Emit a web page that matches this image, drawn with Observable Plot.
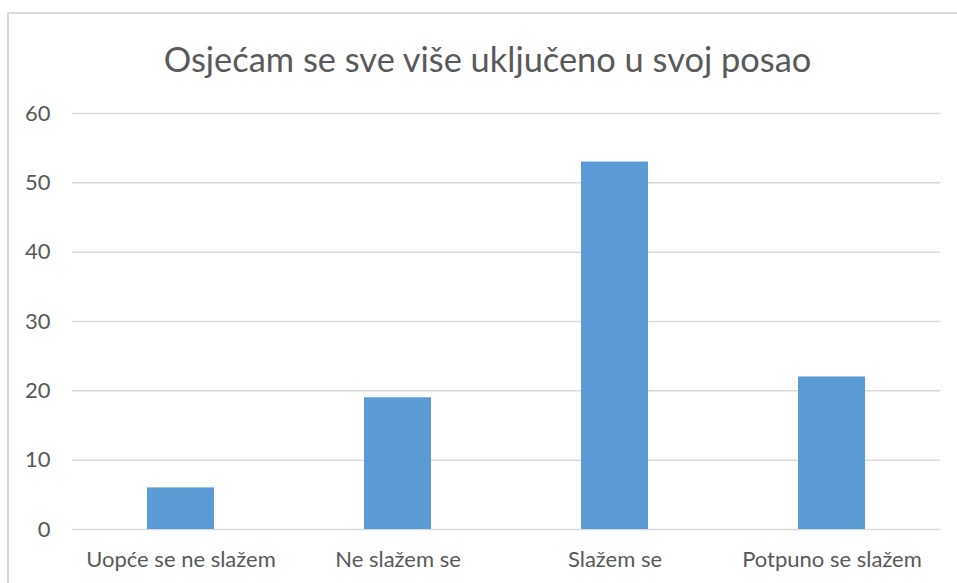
<!DOCTYPE html>
<html>
<head>
<meta charset="utf-8">
<script src="https://cdn.jsdelivr.net/npm/d3@7"></script>
<script src="https://cdn.jsdelivr.net/npm/@observablehq/plot@0.6"></script>
<style>
  html, body { margin: 0; padding: 0; background: #fff; }
  body { width: 957px; height: 583px; overflow: hidden; position: relative; font-family: Lato, "Open Sans", sans-serif; }
  #frame { position: absolute; left: 7px; top: 12px; width: 960px; height: 580px; border-top: 2px solid #D9D9D9; border-left: 2px solid #D9D9D9; }
  #chart { position: absolute; left: 0; top: 0; width: 957px; }
  #title { height: 88px; line-height: 1; text-align: center; color: #595959; font-size: 34.4px; box-sizing: border-box; white-space: nowrap; }
  #title span { display: inline-block; margin-top: 42px; margin-left: 18px; }
  svg { display: block; }
</style>
</head>
<body>
<div id="frame"></div>
<div id="chart">
  <div id="title"><span>Osjećam se sve više uključeno u svoj posao</span></div>
</div>
<script>
const categories = ["Uopće se ne slažem", "Ne slažem se", "Slažem se", "Potpuno se slažem"];
const values = [6, 19, 53, 22];
const yTicks = [0, 10, 20, 30, 40, 50, 60];

const data = categories.map((c, i) => ({category: c, value: values[i]}));

const plot = Plot.plot({
  width: 957,
  height: 495,
  marginTop: 25,
  marginBottom: 54,
  marginLeft: 72,
  marginRight: 17,
  style: {fontFamily: "Lato, 'Open Sans', sans-serif", fontSize: "22px", color: "#595959", background: "transparent"},
  x: {domain: categories, paddingInner: 0.69, paddingOuter: 0.345, label: null},
  y: {domain: [0, 60], label: null},
  marks: [
    Plot.ruleY(yTicks, {stroke: "#D9D9D9", strokeWidth: 1.5}),
    Plot.barY(data, {x: "category", y: "value", fill: "#5B9BD5"}),
    Plot.axisY({ticks: yTicks, tickSize: 0, tickPadding: 22, label: null, fill: "#595959"}),
    Plot.axisX({tickSize: 0, tickPadding: 22, label: null, fill: "#595959"})
  ]
});
document.getElementById("chart").appendChild(plot);
</script>
</body>
</html>
